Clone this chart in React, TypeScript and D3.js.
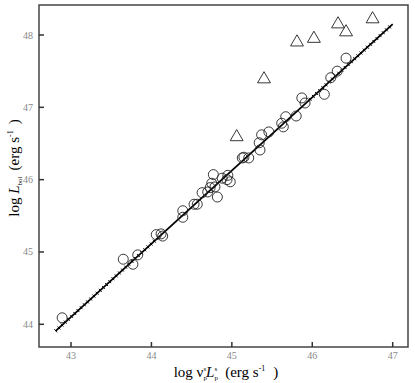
import React, { useEffect, useRef } from 'react';
import * as d3 from 'd3';

const width = 415;
const height = 383;
const frame = { left: 39, right: 408, top: 5, bottom: 347 };

// circles: log nu_p L_p (x) vs log L_bol (y)
const circleX = [42.89, 43.65, 43.77, 43.83, 44.06, 44.12, 44.14, 44.39, 44.39, 44.53, 44.57, 44.63, 44.70, 44.73, 44.82, 44.75, 44.79, 44.77, 44.88, 44.94, 44.95, 44.98, 45.13, 45.15, 45.21, 45.34, 45.35, 45.37, 45.46, 45.62, 45.64, 45.67, 45.80, 45.87, 45.91, 46.15, 46.23, 46.31, 46.42];
const circleY = [44.09, 44.90, 44.83, 44.96, 45.24, 45.25, 45.22, 45.57, 45.48, 45.66, 45.66, 45.82, 45.83, 45.89, 45.76, 45.95, 45.90, 46.07, 46.02, 46.00, 46.06, 45.97, 46.30, 46.31, 46.30, 46.51, 46.41, 46.62, 46.66, 46.78, 46.73, 46.87, 46.88, 47.13, 47.06, 47.18, 47.41, 47.50, 47.68];

// triangles
const triX = [45.06, 45.40, 45.81, 46.02, 46.32, 46.42, 46.75];
const triY = [46.59, 47.39, 47.90, 47.95, 48.15, 48.04, 48.22];

// fitted line
const fitRange = [42.81, 47.0];
const fitSlope = 1.012;
const fitIntercept = 0.586;

const xTicks = [43, 44, 45, 46, 47];
const yTicks = [44, 45, 46, 47, 48];

function App() {
  const ref = useRef<SVGSVGElement>(null);

  useEffect(() => {
    const svg = d3.select(ref.current);
    svg.selectAll('*').remove();

    const x = d3.scaleLinear().domain([43, 47]).range([71, 392.7]);
    const y = d3.scaleLinear().domain([44, 48]).range([324.3, 35]);

    svg.append('rect').attr('width', width).attr('height', height).attr('fill', '#fff');

    // fit line
    const fy = (v: number) => fitSlope * v + fitIntercept;
    svg.append('line')
      .attr('x1', x(fitRange[0])).attr('y1', y(fy(fitRange[0])))
      .attr('x2', x(fitRange[1])).attr('y2', y(fy(fitRange[1])))
      .attr('stroke', '#000').attr('stroke-width', 1.8);

    // little ticks along the line ends
    const p0 = [x(fitRange[0]), y(fy(fitRange[0]))];
    const p1 = [x(fitRange[1]), y(fy(fitRange[1]))];
    const len = Math.hypot(p1[0] - p0[0], p1[1] - p0[1]);
    const ux = (p1[0] - p0[0]) / len, uy = (p1[1] - p0[1]) / len;
    const ticksG = svg.append('g').attr('stroke', '#000').attr('stroke-width', 1);
    for (let s = 0; s <= len; s += 4.3) {
      const px = p0[0] + ux * s, py = p0[1] + uy * s;
      const xv = x.invert(px);
      if (xv > 44.05 && xv < 45.95) continue;
      ticksG.append('line')
        .attr('x1', px - uy * 2).attr('y1', py + ux * 2)
        .attr('x2', px + uy * 2).attr('y2', py - ux * 2);
    }

    // circles
    svg.append('g').selectAll('circle').data(circleX).enter().append('circle')
      .attr('cx', d => x(d))
      .attr('cy', (d, i) => y(circleY[i]))
      .attr('r', 5)
      .attr('fill', 'none')
      .attr('stroke', '#222')
      .attr('stroke-width', 0.9);

    // triangles
    const tri = d3.symbol().type(d3.symbolTriangle).size(72);
    svg.append('g').selectAll('path').data(triX).enter().append('path')
      .attr('d', tri)
      .attr('transform', (d, i) => 'translate(' + x(d) + ',' + y(triY[i]) + ')')
      .attr('fill', 'none')
      .attr('stroke', '#222')
      .attr('stroke-width', 0.9);

    // frame
    svg.append('rect')
      .attr('x', frame.left).attr('y', frame.top)
      .attr('width', frame.right - frame.left).attr('height', frame.bottom - frame.top)
      .attr('fill', 'none').attr('stroke', '#444').attr('stroke-width', 1.5);

    // x ticks (inward)
    const xg = svg.append('g');
    xTicks.forEach(t => {
      xg.append('line').attr('x1', x(t)).attr('x2', x(t))
        .attr('y1', frame.bottom).attr('y2', frame.bottom - 5)
        .attr('stroke', '#333').attr('stroke-width', 1.5);
      xg.append('text').attr('x', x(t)).attr('y', 359)
        .attr('text-anchor', 'middle')
        .attr('font-family', 'Liberation Serif, serif').attr('font-size', 10)
        .attr('fill', '#888').text(t);
    });

    // y ticks (inward)
    const yg = svg.append('g');
    yTicks.forEach(t => {
      yg.append('line').attr('x1', frame.left).attr('x2', frame.left + 5)
        .attr('y1', y(t)).attr('y2', y(t))
        .attr('stroke', '#333').attr('stroke-width', 1.5);
      yg.append('text').attr('x', 33).attr('y', y(t) + 3.5)
        .attr('text-anchor', 'end')
        .attr('font-family', 'Liberation Serif, serif').attr('font-size', 10)
        .attr('fill', '#888').text(t);
    });

    // x axis label
    const xl = svg.append('text').attr('x', 226).attr('y', 377)
      .attr('text-anchor', 'middle')
      .attr('font-family', 'Liberation Serif, serif').attr('font-size', 15)
      .attr('fill', '#000');
    xl.append('tspan').text('log ν');
    xl.append('tspan').attr('font-size', 7).attr('dy', 3).text('p');
    xl.append('tspan').attr('font-size', 7).attr('dx', -3.5).attr('dy', -9).text('s');
    xl.append('tspan').attr('font-style', 'italic').attr('dy', 6).text('L');
    xl.append('tspan').attr('font-size', 7).attr('dy', 3).text('p');
    xl.append('tspan').attr('font-size', 7).attr('dx', -3.5).attr('dy', -9).text('s');
    xl.append('tspan').attr('dy', 6).attr('dx', 8).text('(erg s');
    xl.append('tspan').attr('font-size', 8).attr('dy', -6).text('-1');
    xl.append('tspan').attr('dy', 6).attr('dx', 8).text(')');

    // y axis label
    const yl = svg.append('text')
      .attr('transform', 'translate(19,' + 168 + ') rotate(-90)')
      .attr('text-anchor', 'middle')
      .attr('font-family', 'Liberation Serif, serif').attr('font-size', 15)
      .attr('fill', '#000');
    yl.append('tspan').text('log ');
    yl.append('tspan').attr('font-style', 'italic').text('L');
    yl.append('tspan').attr('font-size', 7).attr('dy', 3).text('bol');
    yl.append('tspan').attr('dy', -3).attr('dx', 6).text('(erg s');
    yl.append('tspan').attr('font-size', 8).attr('dy', -6).text('-1');
    yl.append('tspan').attr('dy', 6).attr('dx', 6).text(')');
  }, []);

  return (
    <div style={{ position: 'absolute', left: 0, top: 0 }}>
      <svg ref={ref} width={width} height={height}></svg>
    </div>
  );
}

export default App;
